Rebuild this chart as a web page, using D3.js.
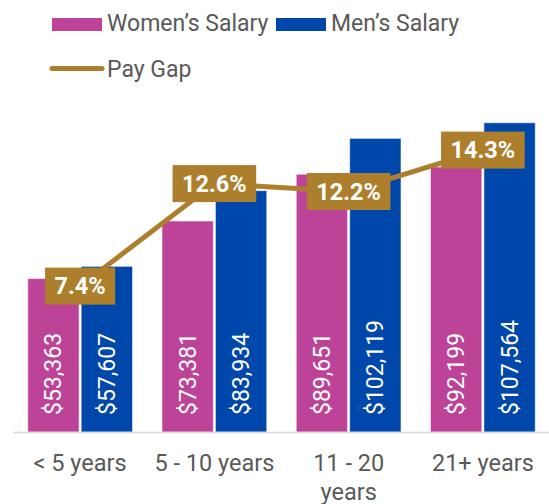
<!DOCTYPE html>
<html>
<head>
<meta charset="utf-8">
<script src="https://cdn.jsdelivr.net/npm/d3@7"></script>
<style>
	body {margin: 0; background: #fff;}
	svg {display: block; font-family: Roboto, sans-serif;}
</style>
</head>
<body>
<div id="chart"></div>
<script>
//Data
var categories = ["< 5 years", "5 - 10 years", "11 - 20 years", "21+ years"];
var womenSalary = [53363, 73381, 89651, 92199];
var menSalary = [57607, 83934, 102119, 107564];
var payGap = [7.4, 12.6, 12.2, 14.3];
var seriesNames = ["Women's Salary", "Men's Salary"];
var seriesColors = ["#bc4398", "#0047ab"];
var gapColor = "#ad7f2c";

var width = 549, height = 504;
var baseline = 432, plotTop = 87;

var svg = d3.select('#chart').append('svg')
	.attr('width', width)
	.attr('height', height);

//Scales
var x0 = d3.scaleBand().domain(categories).range([13, 550])
	.paddingInner(0.22).paddingOuter(0.11);
var x1 = d3.scaleBand().domain([0, 1]).range([0, x0.bandwidth()]).paddingInner(0.04);
var y = d3.scaleLinear().domain([0, 120000]).range([baseline, plotTop]);
var y2 = d3.scaleLinear().domain([0, 17.5]).range([baseline, plotTop]);

var rows = categories.map(function(c, i) {
	return {cat: c, values: [womenSalary[i], menSalary[i]], gap: payGap[i]};
});

//Bars
var groups = svg.append('g').selectAll('g')
	.data(rows)
.enter().append('g')
	.attr('transform', function(d) {return 'translate(' + x0(d.cat) + ',0)';});

groups.selectAll('rect')
	.data(function(d) {return d.values.map(function(v, j) {return {v: v, j: j};});})
.enter().append('rect')
	.attr('x', function(d) {return x1(d.j);})
	.attr('width', x1.bandwidth())
	.attr('y', function(d) {return y(d.v);})
	.attr('height', function(d) {return baseline - y(d.v);})
	.attr('fill', function(d) {return seriesColors[d.j];})
	.attr('stroke', 'rgba(255,255,255,0.5)')
	.attr('stroke-width', 1);

//Value labels (rotated)
groups.selectAll('text.val')
	.data(function(d) {return d.values.map(function(v, j) {return {v: v, j: j};});})
.enter().append('text')
	.attr('class', 'val')
	.attr('transform', function(d) {
		return 'translate(' + (x1(d.j) + x1.bandwidth()/2 + 8) + ',' + (baseline - 17) + ') rotate(-90)';
	})
	.attr('fill', '#fff')
	.style('font-size', '23px')
	.text(function(d) {return '$' + d3.format(',')(d.v);});

//X axis
svg.append('line')
	.attr('x1', 13).attr('x2', 549)
	.attr('y1', baseline + 0.5).attr('y2', baseline + 0.5)
	.attr('stroke', '#d9d9d9')
	.attr('stroke-width', 1.5);

var xAxis = d3.axisBottom(x0).tickSize(0).tickPadding(0);
var axisG = svg.append('g')
	.attr('transform', 'translate(0,' + baseline + ')')
	.call(xAxis);
axisG.select('.domain').remove();
axisG.selectAll('.tick text').remove();
axisG.selectAll('.tick').each(function(d) {
	var lines = d == "11 - 20 years" ? ["11 - 20", "years"] : [d];
	var t = d3.select(this).append('text')
		.attr('fill', '#595959')
		.attr('text-anchor', 'middle')
		.style('font-size', '23.5px')
		.style('font-family', 'Roboto, sans-serif');
	lines.forEach(function(l, i) {
		t.append('tspan').attr('x', 0).attr('y', 39 + i * 29).text(l);
	});
});

//Pay gap line
var cx = function(d) {return x0(d.cat) + x0.bandwidth()/2;};
svg.append('path')
	.datum(rows)
	.attr('fill', 'none')
	.attr('stroke', gapColor)
	.attr('stroke-width', 5)
	.attr('d', d3.line().x(cx).y(function(d) {return y2(d.gap);}));

//Pay gap labels
var labels = svg.append('g').selectAll('g')
	.data(rows)
.enter().append('g')
	.attr('transform', function(d) {return 'translate(' + cx(d) + ',' + y2(d.gap) + ')';});
labels.append('text')
	.attr('text-anchor', 'middle')
	.attr('dy', '0.35em')
	.attr('fill', '#fff')
	.style('font-size', '23.5px')
	.style('font-weight', 'bold')
	.text(function(d) {return d.gap.toFixed(1) + '%';});
labels.each(function() {
	var g = d3.select(this);
	var bb = g.select('text').node().getBBox();
	g.insert('rect', 'text')
		.attr('x', bb.x - 9.5).attr('width', bb.width + 19)
		.attr('y', -18.5).attr('height', 37)
		.attr('fill', gapColor);
});

//Legend
var legend = svg.append('g').style('font-size', '23px').attr('fill', '#595959');
legend.append('rect').attr('x', 52).attr('y', 18).attr('width', 50).attr('height', 13).attr('fill', seriesColors[0]);
legend.append('text').attr('x', 107).attr('y', 31).text(seriesNames[0].replace("'", "\u2019"));
legend.append('rect').attr('x', 276).attr('y', 18).attr('width', 50).attr('height', 13).attr('fill', seriesColors[1]);
legend.append('text').attr('x', 331).attr('y', 31).text(seriesNames[1].replace("'", "\u2019"));
legend.append('line').attr('x1', 52).attr('x2', 102).attr('y1', 68.5).attr('y2', 68.5)
	.attr('stroke', gapColor).attr('stroke-width', 5).attr('stroke-linecap', 'round');
legend.append('text').attr('x', 107).attr('y', 77).text("Pay Gap");
</script>
</body>
</html>
